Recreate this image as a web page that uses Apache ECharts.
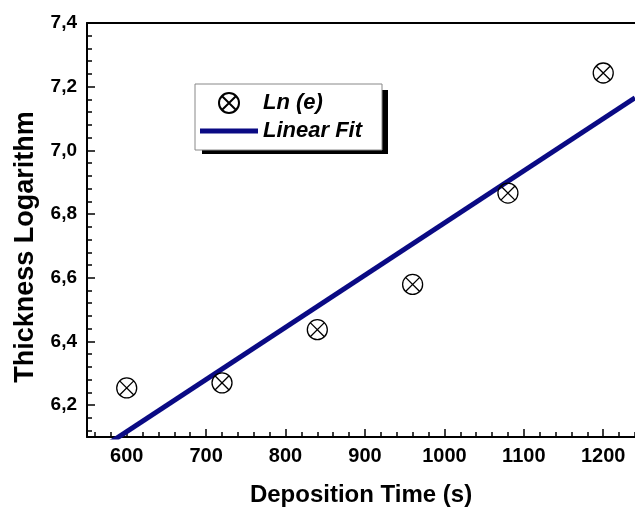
<!DOCTYPE html>
<html>
<head>
<meta charset="utf-8">
<script src="https://cdn.jsdelivr.net/npm/echarts@6/dist/echarts.min.js"></script>
<style>
  html, body { margin: 0; padding: 0; background: #fff; }
  #chart { width: 635px; height: 507px; }
</style>
</head>
<body>
<div id="chart"></div>
<script>
// measured points
const depositionTime = [600, 720, 840, 960, 1080, 1200]
const lnThickness = [6.254, 6.27, 6.437, 6.579, 6.866, 7.243]
// fit line end points
const fitTime = [550, 1240]
const fitValue = [6.035, 7.165]

// axis ticks
const xTicks = [600, 700, 800, 900, 1000, 1100, 1200]
const yTicks = [6.2, 6.4, 6.6, 6.8, 7.0, 7.2, 7.4]
const xRange = [550, 1240]
const yRange = [6.1, 7.4]

const seriesNames = ['Ln (e)', 'Linear Fit']
const fitColor = '#0a0a84'
const font = 'Liberation Sans, Arial, sans-serif'

// minor ticks: 5 steps per major step
const minorTicks = (ticks, range) => {
  const step = (ticks[1] - ticks[0]) / 5
  const out = []
  for (let v = ticks[0] - 5 * step; v <= range[1] + 1e-9; v += step) {
    const r = Math.round(v * 1000) / 1000
    if (r >= range[0] - 1e-9) out.push(r)
  }
  return out
}

// circle with a cross, 20x20
const crossCircle = 'path://M10,0A10,10,0,1,1,10,20A10,10,0,1,1,10,0ZM2.93,2.93L17.07,17.07M17.07,2.93L2.93,17.07'
// flat bar used as the legend sample of the fit line
const fitIcon = 'path://M0,0H58V5H0Z'

const chart = echarts.init(document.getElementById('chart'))

const axisLine = { show: true, onZero: false, lineStyle: { color: '#000', width: 2 } }
const labelStyle = { fontFamily: font, fontWeight: 'bold', color: '#000' }

const option = {
  animation: false,
  grid: { left: 87, top: 23, right: 0, bottom: 70, outerBoundsMode: 'none' },
  graphic: [{
    // legend drop shadow
    type: 'rect',
    z: 3,
    shape: { x: 202, y: 90, width: 186, height: 64 },
    style: { fill: '#000' }
  }],
  legend: {
    orient: 'vertical',
    left: 195,
    top: 84,
    z: 5,
    padding: [8, 20, 8, 5],
    itemGap: 6,
    itemWidth: 58,
    itemHeight: 20,
    symbolKeepAspect: true,
    backgroundColor: '#fff',
    borderColor: '#888',
    borderWidth: 1,
    data: [
      { name: seriesNames[0] },
      { name: seriesNames[1], icon: fitIcon, itemStyle: { color: fitColor } }
    ],
    textStyle: { fontFamily: font, fontSize: 22, fontWeight: 'bold', fontStyle: 'italic', color: '#000' }
  },
  xAxis: [{
    type: 'value',
    min: xRange[0],
    max: xRange[1],
    name: 'Deposition Time (s)',
    nameLocation: 'middle',
    nameGap: 46,
    nameTextStyle: { fontFamily: font, fontSize: 24, fontWeight: 'bold', color: '#000' },
    axisLine,
    axisTick: { show: true, inside: true, length: 8, customValues: xTicks, lineStyle: { color: '#000', width: 1.5 } },
    axisLabel: Object.assign({ margin: 9, fontSize: 20, customValues: xTicks, formatter: v => String(v) }, labelStyle),
    splitLine: { show: false }
  }, {
    // minor ticks along the bottom
    type: 'value',
    position: 'bottom',
    min: xRange[0],
    max: xRange[1],
    axisLine: { show: false },
    axisTick: { show: true, inside: true, length: 5, customValues: minorTicks(xTicks, xRange), lineStyle: { color: '#000', width: 1.5 } },
    axisLabel: { show: false },
    splitLine: { show: false }
  }, {
    // top frame line
    type: 'value',
    position: 'top',
    min: xRange[0],
    max: xRange[1],
    axisLine,
    axisTick: { show: false },
    axisLabel: { show: false },
    splitLine: { show: false }
  }],
  yAxis: [{
    type: 'value',
    min: yRange[0],
    max: yRange[1],
    name: 'Thickness Logarithm',
    nameLocation: 'middle',
    nameGap: 48,
    nameTextStyle: { fontFamily: font, fontSize: 27, fontWeight: 'bold', color: '#000', padding: [0, 34, 0, 0] },
    axisLine,
    axisTick: { show: true, inside: true, length: 8, customValues: yTicks, lineStyle: { color: '#000', width: 1.5 } },
    axisLabel: Object.assign({
      margin: 10,
      fontSize: 19,
      customValues: yTicks,
      formatter: v => v.toFixed(1).replace('.', ',')
    }, labelStyle),
    splitLine: { show: false }
  }, {
    // minor ticks along the left side
    type: 'value',
    position: 'left',
    min: yRange[0],
    max: yRange[1],
    axisLine: { show: false },
    axisTick: { show: true, inside: true, length: 5, customValues: minorTicks(yTicks, yRange), lineStyle: { color: '#000', width: 1.5 } },
    axisLabel: { show: false },
    splitLine: { show: false }
  }],
  series: [
    {
      name: seriesNames[1],
      type: 'line',
      data: fitTime.map((t, i) => [t, fitValue[i]]),
      symbol: 'none',
      clip: true,
      lineStyle: { color: fitColor, width: 5 },
      itemStyle: { color: fitColor },
      z: 2
    },
    {
      name: seriesNames[0],
      type: 'scatter',
      data: depositionTime.map((t, i) => [t, lnThickness[i]]),
      symbol: crossCircle,
      symbolSize: 20,
      itemStyle: { color: 'rgba(0,0,0,0)', borderColor: '#000', borderWidth: 1.3, opacity: 1 },
      z: 3
    }
  ]
}

chart.setOption(option)
</script>
</body>
</html>
